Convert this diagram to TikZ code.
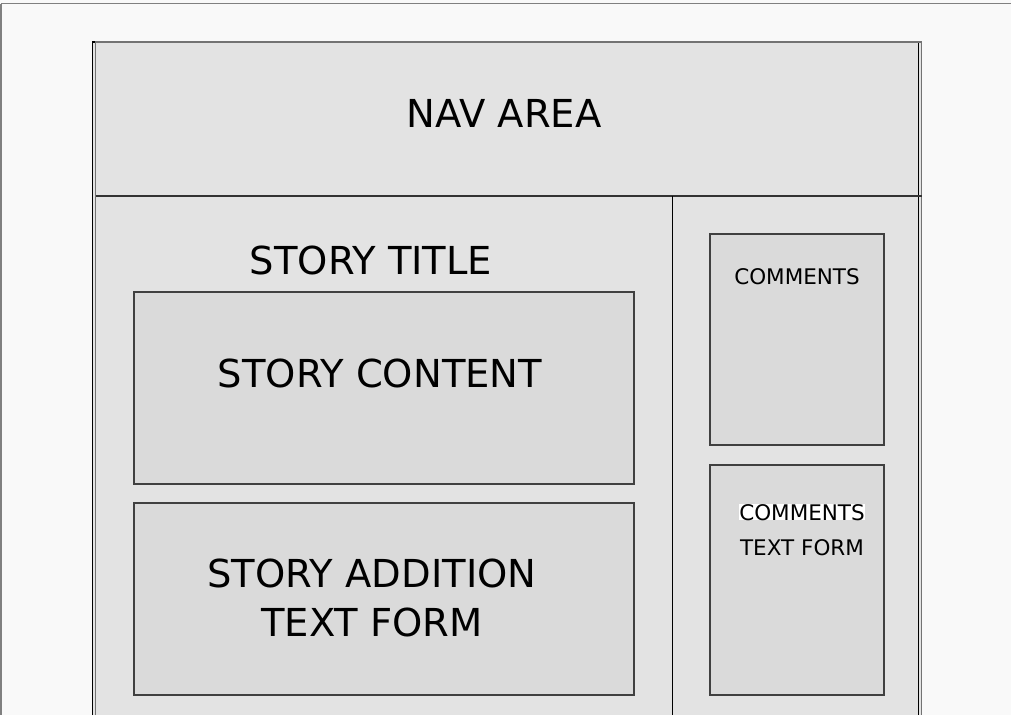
\documentclass[tikz,border=0pt]{standalone}
\usepackage{fontspec}
\setmainfont{DejaVu Sans}
\definecolor{pagebg}{HTML}{F9F9F9}
\definecolor{areabg}{HTML}{E3E3E3}
\definecolor{boxbg}{HTML}{DADADA}
\tikzset{
	panel/.style={draw=black!75, fill=boxbg, line width=1.2pt, inner sep=0pt},
	bigtext/.style={font=\fontsize{38.5}{48.5}\selectfont, align=center, anchor=base, inner sep=0pt},
	smalltext/.style={font=\fontsize{21.5}{35}\selectfont, align=center, anchor=base, inner sep=0pt}
}
\begin{document}
\begin{tikzpicture}[x=1pt, y=-1pt]
				\useasboundingbox (0,0) rectangle (1011,715);
				\fill [pagebg] (0,0) rectangle (1011,715);
				\draw [black!50, line width=1.5pt] (1,3.5) -- (1011,3.5);
				\draw [black!50, line width=1.5pt] (1,3.5) -- (1,715);
				% page frame
				\fill [areabg] (92.5,42) rectangle (921.5,715);
				\draw [line width=1.2pt] (92.5,715) -- (92.5,42) -- (918.5,42) -- (918.5,715);
				\draw [black!55, line width=1.5pt] (95.5,715) -- (95.5,42) -- (921.5,42) -- (921.5,715);
				\draw [black!80, line width=1.7pt] (95.5,196) -- (921.5,196);
				\draw [line width=1.2pt] (672.5,196) -- (672.5,715);
				\node [bigtext] (nav) at (504,127.5) {NAV AREA};
				% story column
				\node [bigtext] (title) at (371,274) {STORY TITLE};
				\node [panel, minimum width=500pt, minimum height=192pt] (content) at (384,388) {};
				\node [bigtext] (contenttext) at (380,387) {STORY CONTENT};
				\node [panel, minimum width=500pt, minimum height=192pt] (addition) at (384,599) {};
				\node [bigtext] (additiontext) at (372,636) {STORY ADDITION\\TEXT FORM};
				% comments column
				\node [panel, minimum width=174pt, minimum height=211pt] (comments) at (797,339.5) {};
				\node [smalltext] (commentstext) at (797,284) {COMMENTS};
				\node [panel, minimum width=174pt, minimum height=230pt] (commentform) at (797,580) {};
				\node [smalltext, fill=white, inner sep=0pt] (formtext) at (802,520) {COMMENTS};
				\node [smalltext] (formtext2) at (802,555) {TEXT FORM};
			\end{tikzpicture}
\end{document}
